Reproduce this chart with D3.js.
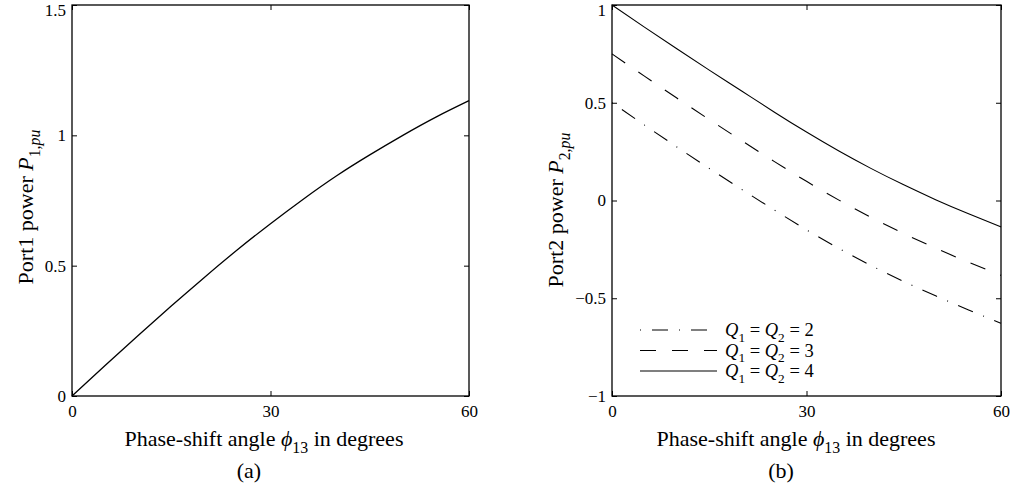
<!DOCTYPE html>
<html>
<head>
<meta charset="utf-8">
<script src="https://cdn.jsdelivr.net/npm/d3@7"></script>
<style>
  html, body { margin: 0; padding: 0; background: #fff; }
  svg { display: block; }
  text { font-family: "Liberation Serif", "Times New Roman", serif; fill: #000; }
</style>
</head>
<body>
<svg id="fig" width="1010" height="493"></svg>
<script>
// Phase-shift angle samples (degrees)
const angles = [0, 5, 10, 15, 20, 25, 30, 35, 40, 45, 50, 55, 60];

// (a) Port 1 power
const p1 = [0, 0.117, 0.232, 0.345, 0.455, 0.561, 0.661, 0.756, 0.845, 0.925, 1.0, 1.07, 1.133];

// (b) Port 2 power for three quality factors
const p2Q2 = [0.5, 0.386, 0.274, 0.164, 0.057, -0.048, -0.15, -0.245, -0.333, -0.414, -0.489, -0.56, -0.628];
const p2Q3 = [0.75, 0.636, 0.524, 0.414, 0.306, 0.2, 0.098, 0.002, -0.087, -0.169, -0.245, -0.316, -0.383];
const p2Q4 = [1.0, 0.887, 0.776, 0.667, 0.56, 0.453, 0.35, 0.253, 0.163, 0.08, 0.003, -0.068, -0.135];

const qValues = [2, 3, 4];

// Tick values
const xTicks = [0, 30, 60];
const yTicksA = [0, 0.5, 1, 1.5];
const yTicksB = [-1, -0.5, 0, 0.5, 1];

const svg = d3.select("#fig");
const TICK = 5;
const TICK_FONT = 17;
const LBL = 22;

const fmt = v => (v < 0 ? "\u2212" : "") + d3.format("")(Math.abs(v));

// Writes a label made of plain, italic and subscript pieces into a <text>
function richText(textSel, parts, size) {
  let cur = 0;
  parts.forEach(p => {
    const ts = textSel.append("tspan").text(p.t);
    if (p.it) ts.attr("font-style", "italic");
    const shift = p.sub ? size * 0.3 : 0;
    if (p.sub) ts.attr("font-size", size * 0.72);
    if (shift !== cur) ts.attr("dy", shift - cur);
    cur = shift;
  });
}

function panel(opts) {
  const { x0, x1, y0, y1, yDomain, yTicks } = opts;
  const x = d3.scaleLinear().domain([0, 60]).range([x0, x1]);
  const y = d3.scaleLinear().domain(yDomain).range([y1, y0]);
  const g = svg.append("g");

  // bottom axis with inward ticks
  const ax = g.append("g").attr("transform", `translate(0,${y1})`)
    .call(d3.axisBottom(x).tickValues(xTicks).tickSize(-TICK).tickPadding(9).tickFormat(fmt));
  // left axis with inward ticks
  const ay = g.append("g").attr("transform", `translate(${x0},0)`)
    .call(d3.axisLeft(y).tickValues(yTicks).tickSize(-TICK).tickPadding(6).tickFormat(fmt));
  // mirrored ticks on top and right
  g.append("g").attr("transform", `translate(0,${y0})`)
    .call(d3.axisTop(x).tickValues(xTicks).tickSize(-TICK).tickFormat(""));
  g.append("g").attr("transform", `translate(${x1},0)`)
    .call(d3.axisRight(y).tickValues(yTicks).tickSize(-TICK).tickFormat(""));

  g.selectAll(".domain").remove();
  g.selectAll(".tick line").attr("stroke", "#000").attr("stroke-width", 1);
  g.selectAll(".tick text").attr("font-family", "Liberation Serif").attr("font-size", TICK_FONT).attr("fill", "#000");
  ax.selectAll(".tick text").attr("dy", "0.71em");
  // keep the topmost y label inside the page
  ay.selectAll(".tick text").filter(d => d === yDomain[1]).attr("dy", "0.62em");

  // frame
  g.append("rect").attr("x", x0).attr("y", y0).attr("width", x1 - x0).attr("height", y1 - y0)
    .attr("fill", "none").attr("stroke", "#000").attr("stroke-width", 1.3);

  return { g, x, y };
}

const lineGen = (x, y, vals) => d3.line()
  .x((d, i) => x(angles[i]))
  .y(d => y(d))
  .curve(d3.curveNatural)(vals);

// ---------- Panel (a) ----------
const A = panel({ x0: 72, x1: 469, y0: 5, y1: 396, yDomain: [0, 1.5], yTicks: yTicksA });
A.g.append("path").attr("d", lineGen(A.x, A.y, p1))
  .attr("fill", "none").attr("stroke", "#000").attr("stroke-width", 1.3);

// ---------- Panel (b) ----------
const B = panel({ x0: 612, x1: 1001, y0: 5, y1: 396, yDomain: [-1, 1], yTicks: yTicksB });
const seriesB = [
  { q: qValues[0], vals: p2Q2, dash: "1,11,16,11" },
  { q: qValues[1], vals: p2Q3, dash: "16,16" },
  { q: qValues[2], vals: p2Q4, dash: null }
];
seriesB.forEach(s => {
  const p = B.g.append("path").attr("d", lineGen(B.x, B.y, s.vals))
    .attr("fill", "none").attr("stroke", "#000").attr("stroke-width", 1.1);
  if (s.dash) p.attr("stroke-dasharray", s.dash);
});

// legend
const leg = B.g.append("g");
seriesB.forEach((s, i) => {
  const ly = 330 + i * 20.5;
  const l = leg.append("line").attr("x1", 640).attr("x2", 717).attr("y1", ly).attr("y2", ly)
    .attr("stroke", "#000").attr("stroke-width", 1.1);
  if (s.dash) l.attr("stroke-dasharray", s.dash);
  const t = leg.append("text").attr("x", 725).attr("y", ly + 6).attr("font-size", 18.5);
  richText(t, [
    { t: "Q", it: true }, { t: "1", sub: true }, { t: " = " },
    { t: "Q", it: true }, { t: "2", sub: true }, { t: " = " + s.q }
  ], 18.5);
});

// ---------- Axis labels ----------
function xLabel(cx, tag) {
  const t = svg.append("text").attr("x", cx).attr("y", 446).attr("text-anchor", "middle").attr("font-size", LBL);
  richText(t, [
    { t: "Phase-shift angle " }, { t: "\u03D5", it: true }, { t: "13", sub: true }, { t: " in degrees" }
  ], LBL);
  svg.append("text").attr("x", cx - 15).attr("y", 478).attr("text-anchor", "middle")
    .attr("font-size", LBL).text(tag);
}
xLabel(264, "(a)");
xLabel(796, "(b)");

function yLabel(bx, cy, n) {
  const t = svg.append("text").attr("transform", `translate(${bx},${cy}) rotate(-90)`)
    .attr("text-anchor", "middle").attr("font-size", LBL);
  richText(t, [
    { t: "Port" + n + " power " }, { t: "P", it: true }, { t: n + ",", sub: true }, { t: "pu", it: true, sub: true }
  ], LBL);
}
yLabel(33, 207, 1);
yLabel(563, 210, 2);
</script>
</body>
</html>
